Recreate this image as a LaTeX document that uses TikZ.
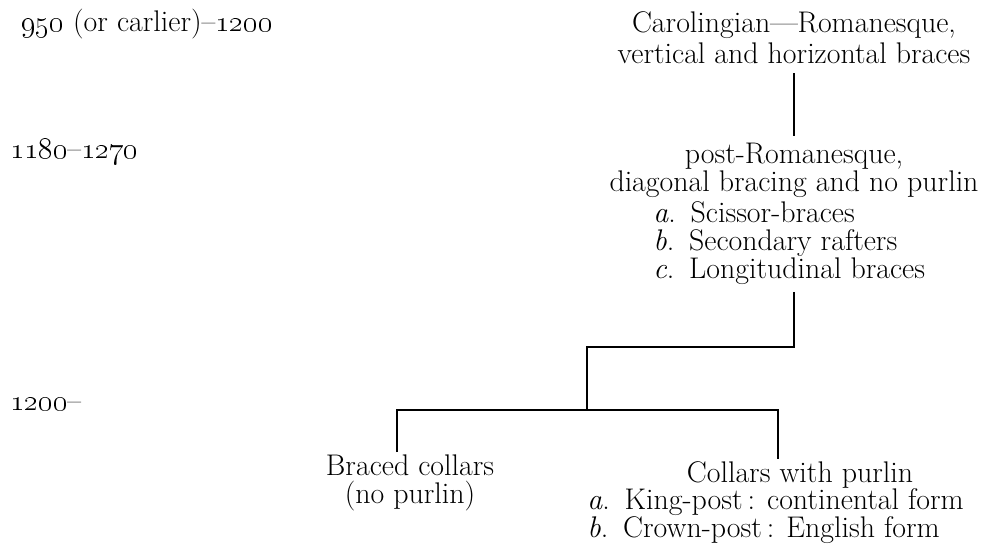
\documentclass[tikz,border=0pt]{standalone}
\usetikzlibrary{positioning,calc}
\tikzset{
  yr/.style={anchor=base west, inner sep=0pt},
  hd/.style={anchor=north, inner sep=0pt, align=center},
  lst/.style={anchor=north west, inner sep=0pt, align=left},
  ln/.style={line width=0.7pt, black},
}
\newcommand{\itm}[1]{\textit{#1}.\enspace}
\newcommand{\yrs}[1]{\oldstylenums{#1}}

\begin{document}
\begin{tikzpicture}[x=0.02cm, y=-0.02cm, font=\fontsize{17}{16}\selectfont]
    \useasboundingbox (0,0) rectangle (991,546);
    % dates down the left
    \node[yr] (t1) at (21,32) {\yrs{950} (or carlier)\textendash\yrs{1200}};
    \node[yr] (t2) at (10,159) {\yrs{1180}\textendash\yrs{1270}};
    \node[yr] (t3) at (10,411) {\yrs{1200}\textendash};
    % the tree
    \node[hd] (caro) at (794,11) {Carolingian\textemdash Romanesque,\\[2pt]vertical and horizontal braces};
    \node[hd] (post) at (794,143) {post-Romanesque,\\diagonal bracing and no purlin};
    \node[lst] (postlist) at (653,201) {\itm{a}Scissor-braces\\\itm{b}Secondary rafters\\\itm{c}Longitudinal braces};
    \node[hd] (braced) at (410,454) {Braced collars\\(no purlin)};
    \node[hd] (collars) at (800,461) {Collars with purlin};
    \node[lst] (collarslist) at (587,488) {\itm{a}King-post\,: continental form\\\itm{b}Crown-post\,: English form};
    \coordinate (split) at (587,347);
    \coordinate (lft) at (397,410);
    \coordinate (rgt) at (778,410);
    \draw[ln, shorten <=5pt, shorten >=4pt] (caro) -- (post);
    \draw[ln, shorten <=4pt] (postlist.south -| post) |- (split) -- (split |- lft);
    \draw[ln, shorten <=1pt, shorten >=1pt] (lft |- braced.north) -- (lft) -- (rgt) -- (rgt |- collars.north);
  \end{tikzpicture}
\end{document}
